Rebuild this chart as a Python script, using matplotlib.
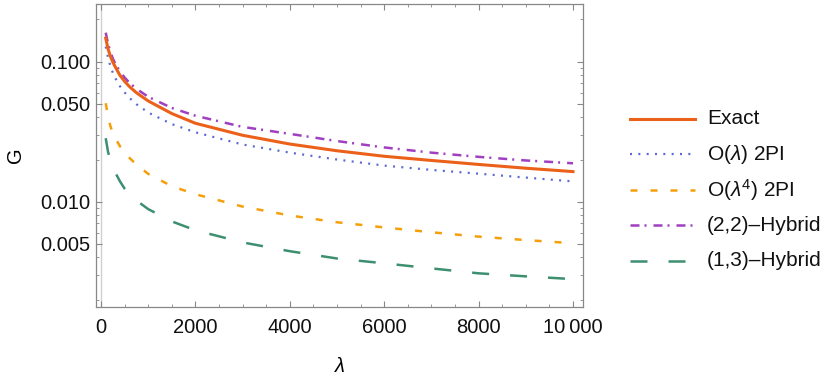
import matplotlib
matplotlib.use("Agg")
import matplotlib.pyplot as plt
from matplotlib.lines import Line2D
from matplotlib.ticker import FixedLocator, LogLocator, NullFormatter, FixedFormatter

# values (lambda vs G)
lam = [100, 150, 200, 250, 300, 400, 500, 600, 750, 1000, 1500, 2000, 3000, 4000,
       5000, 6000, 7000, 8000, 9000, 10000]
g_exact = [0.147, 0.123, 0.109, 0.0993, 0.092, 0.080, 0.0723, 0.0665, 0.060, 0.0524,
           0.0426, 0.0363, 0.0298, 0.0258, 0.0231, 0.0211, 0.0197, 0.01845, 0.01734, 0.0164]
g_2pi_1 = [0.128, 0.106, 0.0925, 0.0834, 0.0766, 0.0668, 0.0603, 0.0552, 0.0497, 0.0433,
           0.0358, 0.0313, 0.0256, 0.0224, 0.0200, 0.0181, 0.01686, 0.01585, 0.01486, 0.01396]
g_2pi_4 = [0.0505, 0.0403, 0.0345, 0.0311, 0.0286, 0.0249, 0.0225, 0.0206, 0.0184, 0.0158,
           0.0129, 0.0113, 0.00923, 0.00797, 0.00713, 0.00655, 0.00605, 0.00563, 0.00532, 0.00505]
g_hyb22 = [0.161, 0.134, 0.117, 0.1054, 0.097, 0.0853, 0.077, 0.0708, 0.064, 0.0561,
           0.0467, 0.0411, 0.0342, 0.0305, 0.0271, 0.0244, 0.0224, 0.0209, 0.0197, 0.0188]
g_hyb13 = [0.0284, 0.0226, 0.0197, 0.0177, 0.0162, 0.0140, 0.0124, 0.01135, 0.0102, 0.00885,
           0.00723, 0.00625, 0.00512, 0.00443, 0.00393, 0.00363, 0.00334, 0.00308, 0.00293, 0.0028]

labels = ["Exact", r"O($\lambda$) 2PI", r"O($\lambda^4$) 2PI",
          "(2,2)\u2013Hybrid", "(1,3)\u2013Hybrid"]

x_ticks = [0, 2000, 4000, 6000, 8000, 10000]
x_ticklabels = ["0", "2000", "4000", "6000", "8000", "10\u2009000"]
y_ticks = [0.005, 0.01, 0.05, 0.1]
y_ticklabels = ["0.005", "0.010", "0.050", "0.100"]

styles = [
    dict(color="#EB6119", lw=2.2, zorder=3),
    dict(color="#5A6AD0", lw=1.6, dashes=(0.9, 2.85)),
    dict(color="#F5A00A", lw=1.8, dashes=(2.8, 5.2)),
    dict(color="#A040C0", lw=1.8, dashes=(3.6, 2.0, 0.8, 2.8)),
    dict(color="#3D8F70", lw=1.8, dashes=(6.8, 8.4)),
]

plt.rcParams["font.family"] = ["Liberation Sans", "DejaVu Sans"]
plt.rcParams["mathtext.fontset"] = "custom"
plt.rcParams["mathtext.rm"] = "Liberation Sans"
plt.rcParams["mathtext.it"] = "Liberation Sans:italic"
plt.rcParams["font.size"] = 14.5

W, H = 830, 382
fig = plt.figure(figsize=(W / 100, H / 100), dpi=100)
ax = fig.add_axes([96 / W, 1 - 307 / H, (583 - 96) / W, (307 - 4) / H])

ax.axvline(0, color="#d0d0d0", lw=1.0, zorder=0)

series = [g_exact, g_2pi_1, g_2pi_4, g_hyb22, g_hyb13]
for ys, st in zip(series, styles):
    ax.plot(lam, ys, **st)

ax.set_yscale("log")
ax.set_xlim(-106, 10212)
ax.set_ylim(0.00177, 0.258)

ax.xaxis.set_major_locator(FixedLocator(x_ticks))
ax.xaxis.set_major_formatter(FixedFormatter(x_ticklabels))
ax.xaxis.set_minor_locator(FixedLocator(list(range(0, 10001, 500))))
ax.yaxis.set_major_locator(FixedLocator(y_ticks))
ax.yaxis.set_major_formatter(FixedFormatter(y_ticklabels))
ax.yaxis.set_minor_locator(LogLocator(base=10, subs=(2, 3, 4, 6, 7, 8, 9)))
ax.yaxis.set_minor_formatter(NullFormatter())

ax.tick_params(which="both", direction="in", top=True, right=True,
               color="#888888", labelcolor="#111111")
ax.tick_params(which="major", length=4.5, width=0.8)
ax.tick_params(which="minor", length=2.5, width=0.6)
ax.tick_params(axis="x", which="major", pad=8)
ax.tick_params(axis="y", which="major", pad=4)
for s in ax.spines.values():
    s.set_color("#888888")
    s.set_linewidth(0.9)

ax.set_xlabel(r"$\lambda$", labelpad=14)
ax.set_ylabel("G", labelpad=11)

# legend drawn by hand so the rows are evenly spaced like the reference
for i, (lab, st) in enumerate(zip(labels, styles)):
    yf = 1 - (119 + 35.4 * i) / H
    fig.add_artist(Line2D([630 / W, 695 / W], [yf, yf], transform=fig.transFigure, **st))
    fig.text(707 / W, yf, lab, va="center", ha="left", fontsize=15, color="#111111")

fig.savefig("out.png", dpi=100)
